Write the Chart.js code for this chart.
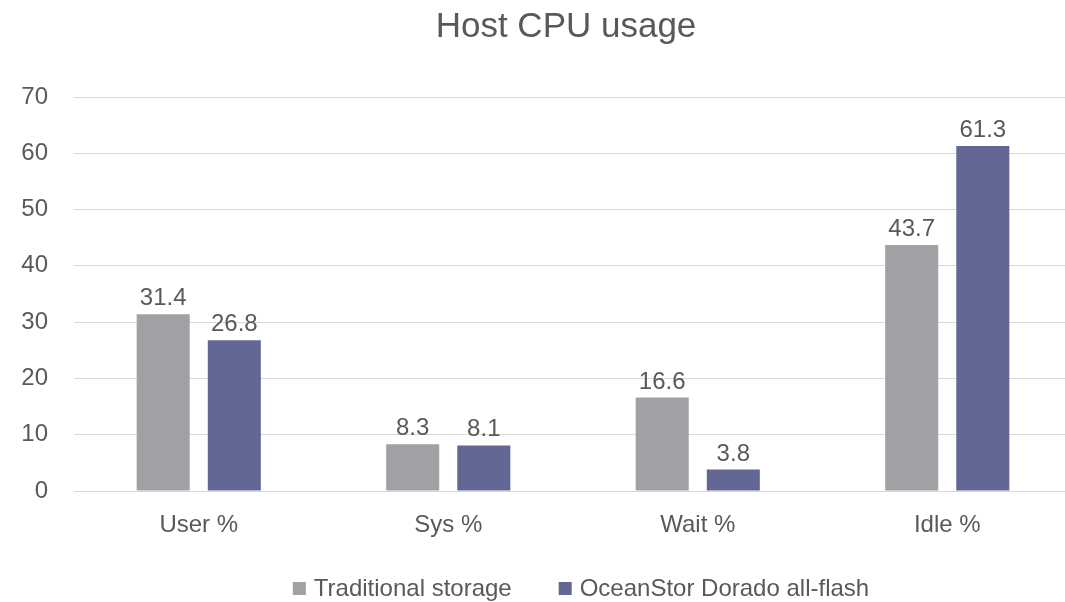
<!DOCTYPE html>
<html>
<head>
<meta charset="utf-8">
<script src="https://cdn.jsdelivr.net/npm/chart.js@4/dist/chart.umd.min.js"></script>
<style>
html,body{margin:0;padding:0;background:#fff;overflow:hidden;}
#wrap{width:1075px;height:602px;position:relative;}
</style>
</head>
<body>
<div id="wrap"><canvas id="c" width="1075" height="602"></canvas></div>
<script>
const titleText = "Host CPU usage";
const categories = ["User %", "Sys %", "Wait %", "Idle %"];
const seriesNames = ["Traditional storage", "OceanStor Dorado all-flash"];
const traditional = [31.4, 8.3, 16.6, 43.7];
const dorado = [26.8, 8.1, 3.8, 61.3];
const yTicks = [0, 10, 20, 30, 40, 50, 60, 70];

const FONT = "'Liberation Sans', Arial, sans-serif";
const TXT = "#595959";
const colors = ["#A0A1A5", "#636795"];

const overlay = {
  id: "overlay",
  afterDatasetsDraw(chart) {
    const ctx = chart.ctx;
    ctx.save();
    ctx.fillStyle = TXT;
    ctx.font = "24px " + FONT;
    ctx.textAlign = "center";
    ctx.textBaseline = "alphabetic";
    chart.data.datasets.forEach((ds, i) => {
      chart.getDatasetMeta(i).data.forEach((bar, j) => {
        ctx.fillText(ds.data[j].toFixed(1), bar.x, bar.y - 9);
      });
    });
    ctx.restore();
  },
  afterDraw(chart) {
    const ctx = chart.ctx;
    ctx.save();
    ctx.fillStyle = TXT;
    ctx.font = "35px " + FONT;
    ctx.textAlign = "center";
    ctx.textBaseline = "alphabetic";
    ctx.fillText(titleText, 566, 37);
    // legend
    ctx.font = "24px " + FONT;
    ctx.textAlign = "left";
    const box = 13, gapBox = 8, gapItem = 47;
    let widths = seriesNames.map(s => box + gapBox + ctx.measureText(s).width);
    let total = widths.reduce((p, c) => p + c, 0) + gapItem * (seriesNames.length - 1);
    let x = 581 - total / 2;
    seriesNames.forEach((s, i) => {
      ctx.fillStyle = colors[i];
      ctx.fillRect(x, 582, box, box);
      ctx.fillStyle = TXT;
      ctx.fillText(s, x + box + gapBox, 596);
      x += widths[i] + gapItem;
    });
    ctx.restore();
  }
};

new Chart(document.getElementById("c"), {
  type: "bar",
  data: {
    labels: categories,
    datasets: [
      { label: seriesNames[0], data: traditional, backgroundColor: colors[0] },
      { label: seriesNames[1], data: dorado, backgroundColor: colors[1] }
    ]
  },
  options: {
    responsive: false,
    animation: false,
    devicePixelRatio: 1,
    layout: { padding: { top: 97, bottom: 0, left: 0, right: 3 } },
    datasets: { bar: { categoryPercentage: 0.57, barPercentage: 0.746 } },
    plugins: { legend: { display: false }, title: { display: false }, tooltip: { enabled: false } },
    scales: {
      x: {
        grid: { display: false, drawTicks: false },
        border: { display: false },
        ticks: { color: TXT, font: { family: FONT, size: 24 }, padding: 20 },
        afterFit(s) { s.height = 111; }
      },
      y: {
        min: 0, max: 70,
        afterBuildTicks(s) { s.ticks = yTicks.map(v => ({ value: v })); },
        grid: { color: "#D9D9D9", lineWidth: 1, drawTicks: false },
        border: { display: false },
        ticks: { color: TXT, font: { family: FONT, size: 24 }, padding: 26 },
        afterFit(s) { s.width = 74; }
      }
    }
  },
  plugins: [overlay]
});
</script>
</body>
</html>
